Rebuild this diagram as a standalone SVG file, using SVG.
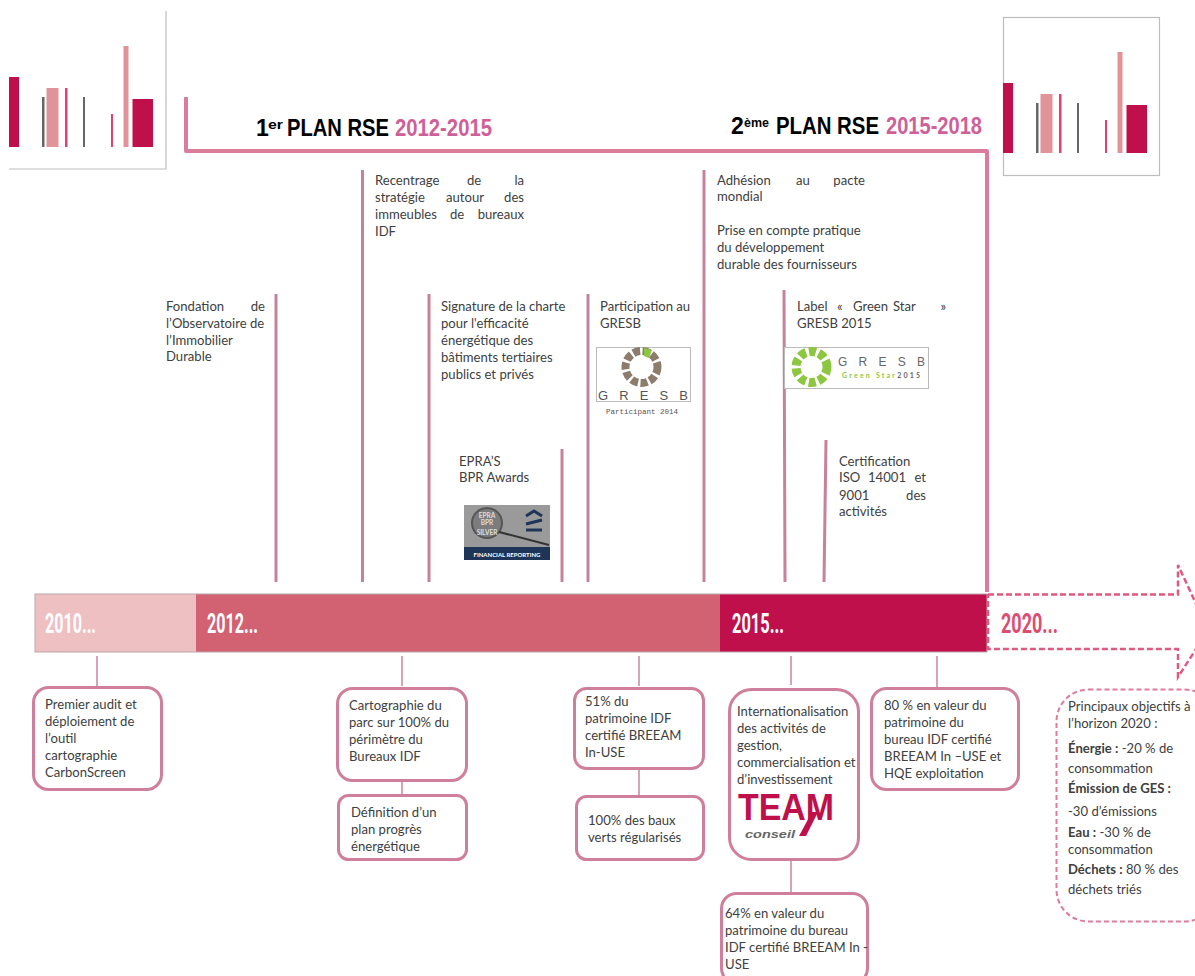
<svg xmlns="http://www.w3.org/2000/svg" width="1195" height="976" viewBox="0 0 1195 976">
<style>
text{font-family:"Lato","Open Sans",sans-serif;font-size:13.100px;fill:#404040}
.t{font-family:"Liberation Sans",Arial,sans-serif;font-size:23px;font-weight:bold;fill:#000}
.s{font-size:13px}
.tp{fill:#cf5f97}
.y{font-family:"Roboto","Liberation Sans",sans-serif;font-size:28px;font-weight:bold;fill:#fff}
.v{stroke:#c6829b;stroke-width:3;fill:none}
.c{stroke:#d3a5b5;stroke-width:2;fill:none}
.b{fill:#fff;stroke:#cf7f9b;stroke-width:3}
.fr{fill:none;stroke:#bdbdbd;stroke-width:1.200}
.cr{fill:#c0104b}.pk{fill:#e09398}.gr{fill:#666}.rd{fill:#e0426f}
</style>
<g id="logo-left">
<path class="fr" d="M166 11V169H9"/>
<rect class="cr" x="9" y="77" width="10" height="70"/><rect class="gr" x="42" y="97" width="2.500" height="50"/><rect class="pk" x="46.500" y="88" width="12" height="59"/><rect class="rd" x="65" y="88" width="2.500" height="59"/><rect class="gr" x="83" y="97" width="2" height="50"/><rect class="rd" x="111" y="114" width="2" height="33"/><rect class="pk" x="123.500" y="46" width="5" height="101"/><rect class="cr" x="132.500" y="99" width="20.500" height="48"/>
</g>
<g id="logo-right">
<rect class="fr" x="1003.500" y="17.500" width="156" height="158"/>
<rect class="cr" x="1003" y="83" width="10" height="70"/><rect class="gr" x="1036" y="103" width="2.500" height="50"/><rect class="pk" x="1040.500" y="94" width="12" height="59"/><rect class="rd" x="1059" y="94" width="2.500" height="59"/><rect class="gr" x="1077" y="103" width="2" height="50"/><rect class="rd" x="1105" y="120" width="2" height="33"/><rect class="pk" x="1117.500" y="52" width="5" height="101"/><rect class="cr" x="1126.500" y="105" width="20.500" height="48"/>
</g>
<g id="titles">
<text class="t" x="256" y="136">1</text><text class="t s" x="268" y="129" textLength="15" lengthAdjust="spacingAndGlyphs">er</text><text class="t" x="287" y="136" textLength="102" lengthAdjust="spacingAndGlyphs">PLAN RSE</text><text class="t tp" x="395" y="136" textLength="97" lengthAdjust="spacingAndGlyphs">2012-2015</text>
<text class="t" x="731" y="134">2</text><text class="t s" x="744" y="127" textLength="25" lengthAdjust="spacingAndGlyphs">ème</text><text class="t" x="776" y="134" textLength="103" lengthAdjust="spacingAndGlyphs">PLAN RSE</text><text class="t tp" x="886" y="134" textLength="96" lengthAdjust="spacingAndGlyphs">2015-2018</text>
</g>
<g id="connectors">
<path d="M186 97V151H987V592" fill="none" stroke="#dc7c9b" stroke-width="4" stroke-linejoin="round"/>
<path class="v" d="M276 294V582M362.500 170V582M429 294V582M562 449V582M588 294V582M704 170V582M784 290L785 582M826 440L824 582"/>
<path class="c" d="M97 656V686M402 656V686M639 656V686M791 656V685M937 656V688M402 781V795M639 769V796M791 860V893"/>
</g>
<g id="timeline">
<rect x="35" y="594" width="161" height="58" fill="#eec0c2"/>
<rect x="196" y="594" width="524" height="58" fill="#d26172"/>
<rect x="720" y="594" width="267" height="58" fill="#c0104b"/>
<rect x="35" y="594" width="952" height="58" fill="none" stroke="#b9a7ab" stroke-width="1"/>
<path d="M988 594.500H1178V565L1198 608M1198 646L1178 677V649H988V594" fill="none" stroke="#de5a80" stroke-width="2.500" stroke-dasharray="6 3"/>
<text class="y" x="45" y="633" textLength="51" lengthAdjust="spacingAndGlyphs">2010...</text>
<text class="y" x="207" y="633" textLength="51" lengthAdjust="spacingAndGlyphs">2012...</text>
<text class="y" x="732" y="633" textLength="52" lengthAdjust="spacingAndGlyphs">2015...</text>
<text class="y" x="1001" y="633" textLength="57" lengthAdjust="spacingAndGlyphs" style="fill:#dc4d72">2020...</text>
</g>
<g id="n-fondation"><text x="166" y="311">Fondation</text><text x="265" y="311" text-anchor="end">de</text><text x="166" y="328">l’Observatoire de</text><text x="166" y="345">l’Immobilier</text><text x="166" y="361">Durable</text></g>
<g id="n-recentrage"><text x="375" y="185">Recentrage</text><text x="467" y="185">de</text><text x="524" y="185" text-anchor="end">la</text><text x="375" y="202">stratégie</text><text x="446" y="202">autour</text><text x="524" y="202" text-anchor="end">des</text><text x="375" y="219">immeubles</text><text x="450" y="219">de</text><text x="524" y="219" text-anchor="end">bureaux</text><text x="375" y="236">IDF</text></g>
<g id="n-charte"><text x="441" y="311">Signature de la charte</text><text x="441" y="328">pour l'efficacité</text><text x="441" y="345">énergétique des</text><text x="441" y="362">bâtiments tertiaires</text><text x="441" y="379">publics et privés</text></g>
<g id="n-epra"><text x="459" y="466">EPRA’S</text><text x="459" y="482">BPR Awards</text>
<rect x="464" y="505" width="86" height="55" fill="#9a9a9a"/><rect x="464" y="547" width="86" height="13" fill="#1e3557"/><circle cx="487" cy="523" r="15" fill="#7c7c7c" stroke="#555" stroke-width="2"/><path d="M499 532L549 545" stroke="#333" stroke-width="2"/><path d="M526 516L534 511L542 516M526 524L542 520M526 530H542" stroke="#1e3557" stroke-width="3" fill="none"/>
<text x="507" y="557" text-anchor="middle" style="font-size:6px;font-weight:bold;fill:#fff">FINANCIAL REPORTING</text><text x="487" y="518" text-anchor="middle" style="font-size:6.500px;font-weight:bold;fill:#ddd">EPRA</text><text x="487" y="525" text-anchor="middle" style="font-size:6.500px;font-weight:bold;fill:#ddd">BPR</text><text x="487" y="535" text-anchor="middle" style="font-size:6.500px;font-weight:bold;fill:#ddd">SILVER</text></g>
<g id="n-gresb"><text x="600" y="311">Participation au</text><text x="600" y="328">GRESB</text>
<rect x="596.500" y="347.500" width="94" height="54" fill="#fff" stroke="#bbb"/>
<circle cx="641.500" cy="367" r="16" fill="none" stroke="#8d7b6c" stroke-width="8" stroke-dasharray="7 2.500"/>
<path d="M644 348L652 350L649 358L644 356Z" fill="#8dc63f"/>
<text x="598" y="400" style="font-family:'Liberation Sans',sans-serif;font-size:13px;fill:#555" textLength="90">G R E S B</text>
<text x="642" y="414" text-anchor="middle" style="font-family:'Liberation Mono',monospace;font-size:7.500px;fill:#555">Participant 2014</text></g>
<g id="n-adhesion"><text x="717" y="185">Adhésion</text><text x="796" y="185">au</text><text x="865" y="185" text-anchor="end">pacte</text><text x="717" y="201">mondial</text><text x="717" y="235">Prise en compte pratique</text><text x="717" y="252">du développement</text><text x="717" y="269">durable des fournisseurs</text></g>
<g id="n-greenstar"><text x="797" y="311">Label</text><text x="837" y="311">«</text><text x="853" y="311">Green</text><text x="893" y="311">Star</text><text x="946" y="311" text-anchor="end">»</text><text x="797" y="328">GRESB 2015</text>
<rect x="784.500" y="347.500" width="144" height="41" fill="#fff" stroke="#bbb"/>
<circle cx="811.500" cy="367" r="15.500" fill="none" stroke="#8dc63f" stroke-width="9" stroke-dasharray="7 3"/>
<text x="838" y="366" style="font-family:'Liberation Sans',sans-serif;font-size:12px;fill:#666" textLength="87">G R E S B</text>
<text x="842" y="378" style="font-size:7px;font-weight:bold;fill:#8dc63f" textLength="78">Green Star<tspan style="fill:#666">2015</tspan></text></g>
<g id="n-iso"><text x="839" y="466">Certification</text><text x="839" y="482">ISO</text><text x="868" y="482">14001</text><text x="926" y="482" text-anchor="end">et</text><text x="839" y="500">9001</text><text x="926" y="500" text-anchor="end">des</text><text x="839" y="516">activités</text></g>
<g id="b-audit"><rect class="b" x="33.500" y="687.500" width="128" height="102" rx="15"/><text x="45" y="709">Premier audit et</text><text x="45" y="726">déploiement de</text><text x="45" y="743">l’outil</text><text x="45" y="760">cartographie</text><text x="45" y="777">CarbonScreen</text></g>
<g id="b-carto"><rect class="b" x="337.500" y="688.500" width="129" height="92" rx="15"/><text x="349" y="710">Cartographie du</text><text x="349" y="727">parc sur 100% du</text><text x="349" y="744">périmètre du</text><text x="349" y="761">Bureaux IDF</text></g>
<g id="b-plan"><rect class="b" x="338.500" y="795.500" width="128" height="64" rx="10"/><text x="351" y="817">Définition d’un</text><text x="351" y="834">plan progrès</text><text x="351" y="851">énergétique</text></g>
<g id="b-51"><rect class="b" x="574.500" y="688.500" width="129" height="80" rx="12"/><text x="585" y="706">51% du</text><text x="585" y="723">patrimoine IDF</text><text x="585" y="740">certifié BREEAM</text><text x="585" y="757">In-USE</text></g>
<g id="b-100"><rect class="b" x="576.500" y="796.500" width="127" height="63" rx="10"/><text x="588" y="825">100% des baux</text><text x="588" y="842">verts régularisés</text></g>
<g id="b-team"><rect class="b" x="729.500" y="689.500" width="129" height="170" rx="22"/><text x="737" y="716">Internationalisation</text><text x="737" y="733">des activités de</text><text x="737" y="750">gestion,</text><text x="737" y="767">commercialisation et</text><text x="737" y="784">d’investissement</text>
<text x="738" y="820" style="font-family:'Liberation Sans',sans-serif;font-size:36px;font-weight:bold;fill:#c0104b" textLength="96" lengthAdjust="spacingAndGlyphs">TEAM</text><path d="M799 836L812 812L818 812L806 836Z" fill="#c0104b"/><text x="745" y="838" style="font-family:'Liberation Sans',sans-serif;font-size:11px;font-weight:bold;font-style:italic;fill:#666" textLength="50" lengthAdjust="spacingAndGlyphs">conseil</text></g>
<g id="b-80"><rect class="b" x="871.500" y="688.500" width="147" height="101" rx="15"/><text x="884" y="710">80 % en valeur du</text><text x="884" y="727">patrimoine du</text><text x="884" y="744">bureau IDF certifié</text><text x="884" y="761">BREEAM In –USE et</text><text x="884" y="778">HQE exploitation</text></g>
<g id="b-64"><rect class="b" x="721.500" y="893.500" width="146" height="90" rx="15"/><text x="725" y="918">64% en valeur du</text><text x="725" y="935">patrimoine du bureau</text><text x="725" y="952">IDF certifié BREEAM  In -</text><text x="725" y="969">USE</text></g>
<g id="b-2020"><rect x="1056.500" y="689.500" width="160" height="232" rx="32" fill="#fff" stroke="#de7c9c" stroke-width="2" stroke-dasharray="5 3"/>
<text x="1068" y="711">Principaux objectifs à</text><text x="1068" y="728">l’horizon 2020 :</text>
<text x="1068" y="753"><tspan font-weight="bold">Énergie :</tspan> -20 % de</text><text x="1068" y="773">consommation</text>
<text x="1068" y="793"><tspan font-weight="bold">Émission de GES :</tspan></text><text x="1068" y="816">-30 d’émissions</text>
<text x="1068" y="837"><tspan font-weight="bold">Eau :</tspan> -30 % de</text><text x="1068" y="854">consommation</text>
<text x="1068" y="874"><tspan font-weight="bold">Déchets :</tspan> 80 % des</text><text x="1068" y="894">déchets triés</text></g>
</svg>
